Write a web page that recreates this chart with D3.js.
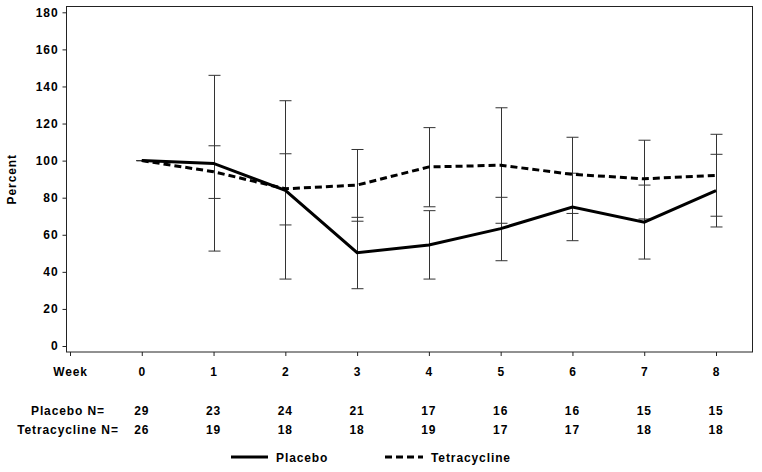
<!DOCTYPE html>
<html>
<head>
<meta charset="utf-8">
<script src="https://cdn.jsdelivr.net/npm/d3@7"></script>
<style>
  html, body { margin: 0; padding: 0; background: #fff; }
  svg { display: block; }
  text { font-family: "Liberation Sans", Arial, sans-serif; font-weight: bold; font-size: 12px; fill: #000; letter-spacing: 0.9px; }
</style>
</head>
<body>
<svg id="chart" width="762" height="472"></svg>
<script>
// ---- data ----
const weeks = [0, 1, 2, 3, 4, 5, 6, 7, 8];
const xTickValues = [-1, 0, 1, 2, 3, 4, 5, 6, 7, 8];
const xTickLabels = ["Week", "0", "1", "2", "3", "4", "5", "6", "7", "8"];
const yTickValues = [0, 20, 40, 60, 80, 100, 120, 140, 160, 180];

const placeboMean = [100, 98.5, 84, 50.3, 54.5, 63.3, 75, 66.8, 83.8];
const placeboLow  = [100, 51.2, 36.1, 30.9, 36.1, 46.0, 56.8, 46.9, 64.2];
const placeboHigh = [100, 146.0, 132.3, 69.4, 73.0, 80.2, 93.2, 86.8, 103.4];

const tetraMean = [100, 94, 84.8, 86.8, 96.6, 97.5, 92.6, 90.2, 92];
const tetraLow  = [100, 79.6, 65.3, 67.3, 75.1, 66.2, 71.5, 68.5, 70.0];
const tetraHigh = [100, 108.0, 103.7, 106.0, 117.8, 128.5, 112.6, 111.0, 114.2];

const placeboN = [29, 23, 24, 21, 17, 16, 16, 15, 15];
const tetraN   = [26, 19, 18, 18, 19, 17, 17, 18, 18];

const seriesNames = ["Placebo", "Tetracycline"];
const rowLabels = ["Placebo N=", "Tetracycline N="];

// ---- layout ----
const svg = d3.select("#chart");
const frame = { left: 66, top: 6.5, right: 752, bottom: 352 };

const x = d3.scaleLinear().domain([-1, 8]).range([70, 716]);
const y = d3.scaleLinear().domain([0, 180]).range([346, 12.3]);

// frame
svg.append("rect")
  .attr("x", frame.left + 0.5).attr("y", frame.top)
  .attr("width", frame.right - frame.left).attr("height", frame.bottom - frame.top)
  .attr("fill", "none").attr("stroke", "#222").attr("stroke-width", 1);

// y axis
const yAxis = svg.append("g")
  .attr("transform", `translate(${frame.left + 0.5},0)`)
  .call(d3.axisLeft(y).tickValues(yTickValues).tickSize(4).tickPadding(4));
yAxis.select(".domain").remove();
yAxis.selectAll(".tick line").attr("stroke", "#222");
yAxis.selectAll("text").attr("font-size", 12).style("font-family", null);

// x axis
const xAxis = svg.append("g")
  .attr("transform", `translate(0,${frame.bottom})`)
  .call(d3.axisBottom(x).tickValues(xTickValues).tickSize(4).tickPadding(11)
        .tickFormat((d, i) => xTickLabels[i]));
xAxis.select(".domain").remove();
xAxis.selectAll(".tick line").attr("stroke", "#222");
xAxis.selectAll("text").attr("font-size", 12).style("font-family", null);

// y label
svg.append("text")
  .attr("transform", `translate(16,${(frame.top + frame.bottom) / 2}) rotate(-90)`)
  .attr("text-anchor", "middle")
  .text("Percent");

// error bars
function errorBars(low, high, cls) {
  const g = svg.append("g").attr("class", cls).attr("stroke", "#333").attr("stroke-width", 1);
  weeks.forEach((w, i) => {
    const cx = Math.round(x(w)) + 0.5;
    g.append("line").attr("x1", cx).attr("x2", cx).attr("y1", y(low[i])).attr("y2", y(high[i]));
    [low[i], high[i]].forEach(v => {
      g.append("line").attr("x1", cx - 6).attr("x2", cx + 6).attr("y1", y(v)).attr("y2", y(v));
    });
  });
}
errorBars(placeboLow, placeboHigh, "eb-placebo");
errorBars(tetraLow, tetraHigh, "eb-tetra");

// lines
const line = d3.line().x((d, i) => x(weeks[i])).y(d => y(d));
svg.append("path").datum(tetraMean)
  .attr("d", line).attr("fill", "none").attr("stroke", "#000")
  .attr("stroke-width", 3).attr("stroke-dasharray", "7,4");
svg.append("path").datum(placeboMean)
  .attr("d", line).attr("fill", "none").attr("stroke", "#000")
  .attr("stroke-width", 3);

// N table
const rows = [placeboN, tetraN];
const rowY = [415, 434];
rows.forEach((vals, r) => {
  svg.append("text").attr("x", x(-1) - 2).attr("y", rowY[r]).attr("text-anchor", "middle").text(rowLabels[r]);
  vals.forEach((v, i) => {
    svg.append("text").attr("x", x(weeks[i])).attr("y", rowY[r]).attr("text-anchor", "middle").text(v);
  });
});

// legend
const legY = 457;
const leg = [
  { name: seriesNames[0], x0: 231, x1: 268, dash: null },
  { name: seriesNames[1], x0: 385, x1: 423, dash: "7,4" }
];
leg.forEach(l => {
  svg.append("line").attr("x1", l.x0).attr("x2", l.x1).attr("y1", legY).attr("y2", legY)
    .attr("stroke", "#000").attr("stroke-width", 3).attr("stroke-dasharray", l.dash);
  svg.append("text").attr("x", l.x1 + 8).attr("y", legY + 4.5).text(l.name);
});
</script>
</body>
</html>
